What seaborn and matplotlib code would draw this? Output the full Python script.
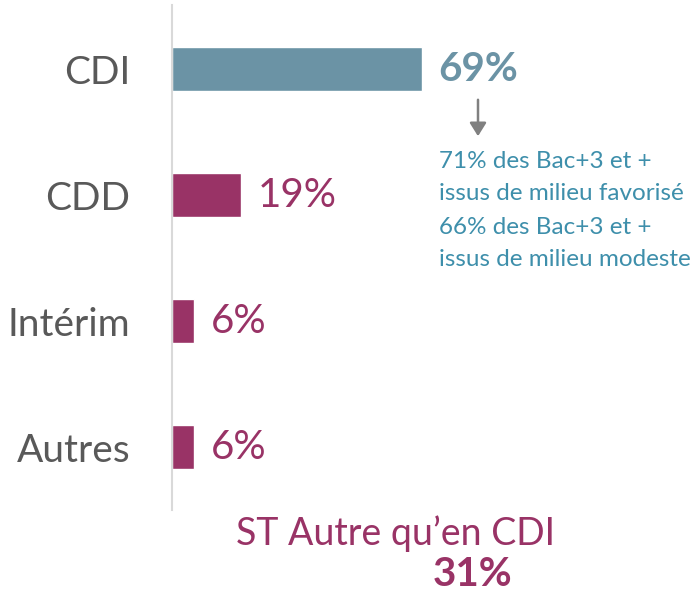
import matplotlib
matplotlib.use("Agg")
import matplotlib.pyplot as plt
import seaborn as sns
import pandas as pd

categories = ["CDI", "CDD", "Intérim", "Autres"]
values = [69, 19, 6, 6]
value_labels = ["69%", "19%", "6%", "6%"]
note_lines = ["71% des Bac+3 et +", "issus de milieu favorisé",
              "66% des Bac+3 et +", "issus de milieu modeste"]
total_title = "ST Autre qu\u2019en CDI"
total_value = "31%"

BLUE = "#6b93a5"
MAGENTA = "#993366"
TEAL = "#3e8fab"
GREY_TXT = "#595959"

sns.set_theme(style="white")
plt.rcParams["font.family"] = ["Lato", "DejaVu Sans"]

W, H = 699, 597
fig = plt.figure(figsize=(W / 100, H / 100), dpi=100)
# axes: left at x=172, top y=5, bottom y=510
ax = fig.add_axes([172 / W, 1 - 510 / H, (W - 172) / W, 505 / H])

df = pd.DataFrame({"cat": categories, "val": values})
colors = [BLUE] + [MAGENTA] * (len(categories) - 1)
sns.barplot(data=df, y="cat", x="val", hue="cat", palette=colors,
            orient="h", width=0.357, legend=False, ax=ax, saturation=1)

ax.set_xlim(0, (W - 172) / 3.62)
ax.set_ylim(3.5, -0.508)
ax.set_xlabel("")
ax.set_ylabel("")
ax.set_xticks([])
for s in ["top", "right", "bottom"]:
    ax.spines[s].set_visible(False)
ax.spines["left"].set_color("#d9d9d9")
ax.spines["left"].set_linewidth(1.5)
ax.tick_params(axis="y", length=0, pad=30, labelsize=28, labelcolor=GREY_TXT)

for i, (v, lab) in enumerate(zip(values, value_labels)):
    ax.annotate(lab, xy=(v, i), xytext=(12, 0), textcoords="offset points",
                ha="left", va="center", fontsize=29,
                color=BLUE if i == 0 else MAGENTA,
                fontweight="bold" if i == 0 else "normal")

# arrow
fig.patches.append(matplotlib.patches.FancyArrowPatch(
    (478 / W, 1 - 97 / H), (478 / W, 1 - 139 / H), transform=fig.transFigure,
    arrowstyle="-|>,head_length=8,head_width=5", color="#808080", lw=1.8,
    mutation_scale=1))

for k, line in enumerate(note_lines):
    fig.text(439 / W, 1 - (161 + 33 * k) / H, line, ha="left", va="center",
             fontsize=17.5, color=TEAL)

fig.text(396 / W, 1 - 534 / H, total_title, ha="center", va="center",
         fontsize=27, color=MAGENTA)
fig.text(473 / W, 1 - 575 / H, total_value, ha="center", va="center",
         fontsize=29, color=MAGENTA, fontweight="bold")

fig.savefig("out.png", dpi=100)
